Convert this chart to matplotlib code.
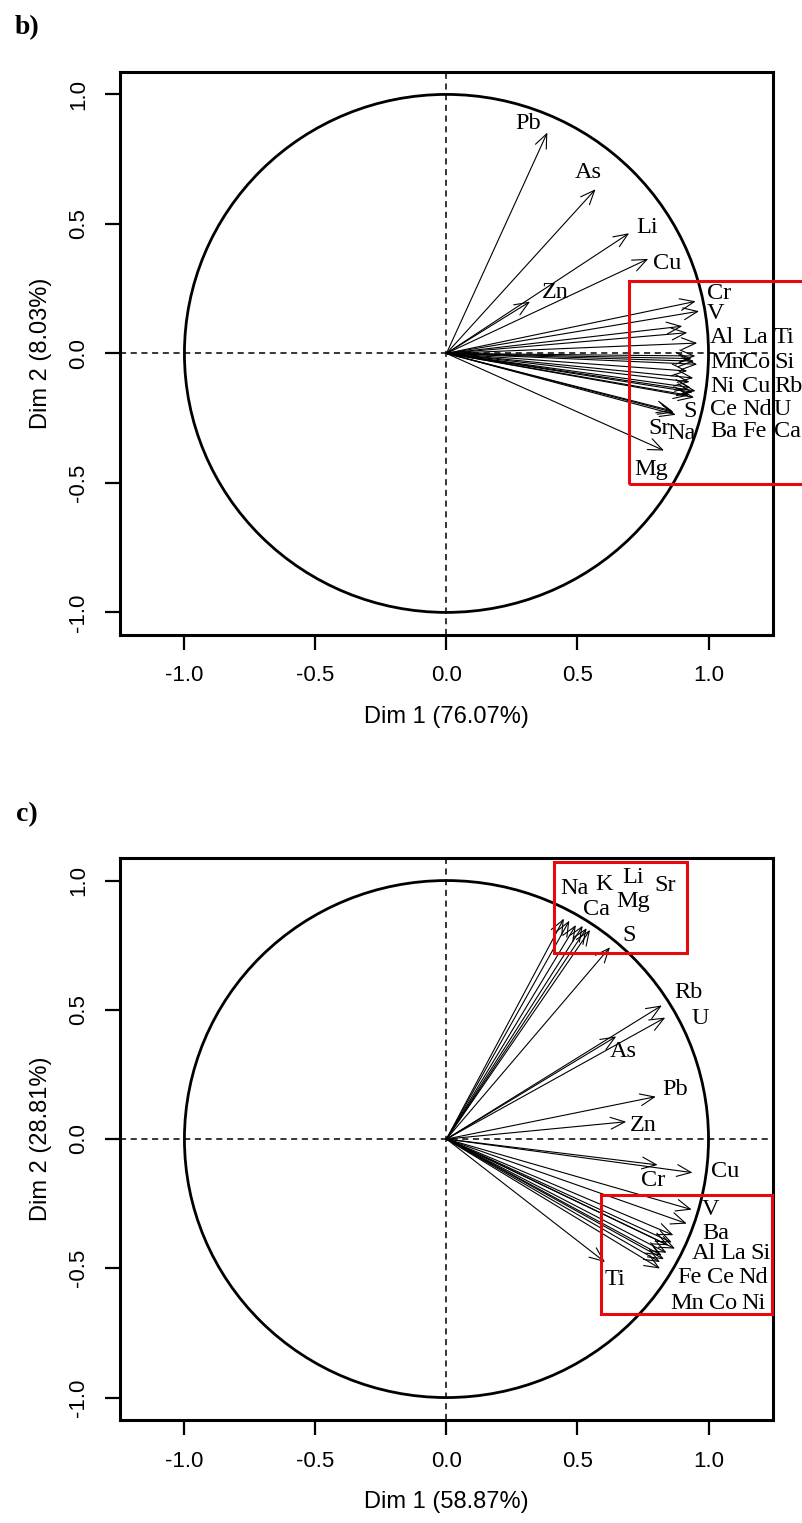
import matplotlib
matplotlib.use("Agg")
import numpy as np
import matplotlib.pyplot as plt
from matplotlib.patches import FancyArrowPatch, Rectangle, Circle

# ---- panel b) variable coordinates (arrow tips) ----
names_b = ["Pb", "As", "Li", "Cu", "Zn", "Cr", "V", "Al", "La", "Ti", "Mn", "Co", "Si",
           "Ni", "Cu", "Rb", "Ce", "Nd", "U", "S", "Sr", "Na", "Ba", "Fe", "Ca", "Mg"]
dim1_b = [0.385, 0.569, 0.697, 0.770, 0.319, 0.951, 0.964, 0.900, 0.919, 0.957, 0.945, 0.957, 0.935,
          0.919, 0.932, 0.951, 0.945, 0.926, 0.940, 0.875, 0.862, 0.868, 0.950, 0.928, 0.942, 0.830]
dim2_b = [0.853, 0.634, 0.464, 0.365, 0.200, 0.201, 0.163, 0.105, 0.080, 0.040, -0.030, -0.042, -0.020,
          -0.068, -0.132, -0.145, -0.170, -0.162, -0.150, -0.237, -0.222, -0.228, -0.010, -0.110, -0.095, -0.375]

# ---- panel c) variable coordinates (arrow tips) ----
names_c = ["Na", "K", "Li", "Sr", "Ca", "Mg", "S", "Rb", "U", "As", "Pb", "Zn", "Cu",
           "Cr", "V", "Ba", "Al", "La", "Si", "Fe", "Ce", "Nd", "Mn", "Co", "Ni", "Ti"]
dim1_c = [0.448, 0.469, 0.494, 0.520, 0.535, 0.548, 0.624, 0.822, 0.835, 0.648, 0.799, 0.686, 0.939,
          0.806, 0.936, 0.917, 0.866, 0.872, 0.847, 0.821, 0.815, 0.815, 0.860, 0.840, 0.830, 0.605]
dim2_c = [0.853, 0.845, 0.828, 0.825, 0.816, 0.809, 0.742, 0.517, 0.470, 0.397, 0.164, 0.067, -0.130,
          -0.100, -0.273, -0.327, -0.372, -0.424, -0.411, -0.450, -0.476, -0.501, -0.400, -0.440, -0.465, -0.476]

# label placement (text, x, y, ha) in data units
labels_b = [("Pb", 0.311, 0.886, "center"), ("As", 0.540, 0.697, "center"),
            ("Li", 0.764, 0.486, "center"), ("Cu", 0.842, 0.349, "center"),
            ("Zn", 0.414, 0.234, "center"), ("Cr", 0.995, 0.230, "left"),
            ("V", 0.995, 0.156, "left"),
            ("Al", 1.005, 0.060, "left"), ("La", 1.128, 0.060, "left"), ("Ti", 1.250, 0.060, "left"),
            ("Mn", 1.005, -0.037, "left"), ("Co", 1.128, -0.037, "left"), ("Si", 1.250, -0.037, "left"),
            ("Ni", 1.005, -0.128, "left"), ("Cu", 1.128, -0.128, "left"), ("Rb", 1.250, -0.128, "left"),
            ("Ce", 1.005, -0.218, "left"), ("Nd", 1.128, -0.218, "left"), ("U", 1.250, -0.218, "left"),
            ("Ba", 1.005, -0.302, "left"), ("Fe", 1.128, -0.302, "left"), ("Ca", 1.250, -0.302, "left"),
            ("S", 0.929, -0.225, "center"), ("Sr", 0.811, -0.288, "center"),
            ("Na", 0.898, -0.308, "center"), ("Mg", 0.783, -0.450, "center")]
labels_c = [("Na", 0.490, 0.970, "center"), ("K", 0.601, 0.983, "center"),
            ("Li", 0.713, 1.012, "center"), ("Sr", 0.834, 0.979, "center"),
            ("Ca", 0.571, 0.889, "center"), ("Mg", 0.713, 0.918, "center"),
            ("S", 0.698, 0.789, "center"), ("Rb", 0.923, 0.566, "center"),
            ("U", 0.970, 0.467, "center"), ("As", 0.674, 0.338, "center"),
            ("Pb", 0.872, 0.193, "center"), ("Zn", 0.750, 0.054, "center"),
            ("Cu", 1.063, -0.126, "center"), ("Cr", 0.788, -0.159, "center"),
            ("V", 0.975, -0.273, "left"), ("Ba", 0.975, -0.364, "left"),
            ("Al", 0.936, -0.441, "left"), ("La", 1.045, -0.441, "left"), ("Si", 1.160, -0.441, "left"),
            ("Fe", 0.879, -0.537, "left"), ("Ce", 0.995, -0.537, "left"), ("Nd", 1.115, -0.537, "left"),
            ("Mn", 0.853, -0.636, "left"), ("Co", 1.000, -0.636, "left"), ("Ni", 1.125, -0.636, "left"),
            ("Ti", 0.643, -0.545, "center")]

ticks = [-1.0, -0.5, 0.0, 0.5, 1.0]
tick_labels = ["-1.0", "-0.5", "0.0", "0.5", "1.0"]

SANS = "Liberation Sans"
SERIF = "Liberation Serif"


def draw_panel(ax, xs, ys, labels, boxes, xlab, ylab):
    ax.set_xlim(-1.246, 1.246)
    ax.set_ylim(-1.087, 1.087)
    ax.axhline(0, color="black", lw=1.1, ls=(0, (4, 3)), zorder=1)
    ax.axvline(0, color="black", lw=1.1, ls=(0, (4, 3)), zorder=1)
    ax.add_patch(Circle((0, 0), 1.0, fill=False, lw=2.0, color="black", zorder=2))
    for x, y in zip(xs, ys):
        ax.add_patch(FancyArrowPatch((0, 0), (x, y), arrowstyle="->,head_length=0.6,head_width=0.25",
                                     mutation_scale=17, lw=0.8, color="black",
                                     shrinkA=0, shrinkB=0, zorder=3))
    for txt, x, y, ha in labels:
        ax.text(x, y, txt, ha=ha, va="center", fontsize=17.5, family=SERIF,
                clip_on=False, zorder=4)
    for x0, y0, x1, y1 in boxes:
        ax.add_patch(Rectangle((x0, y0), x1 - x0, y1 - y0, fill=False, ec="#e8090f",
                               lw=2.2, clip_on=False, zorder=5))
    ax.set_xticks(ticks)
    ax.set_xticklabels(tick_labels)
    ax.set_yticks(ticks)
    ax.set_yticklabels(tick_labels, rotation=90, va="center")
    ax.tick_params(direction="out", length=11, width=1.6, labelsize=16, pad=11)
    for lab in ax.get_xticklabels() + ax.get_yticklabels():
        lab.set_family(SANS)
    for sp in ax.spines.values():
        sp.set_linewidth(2.2)
    ax.set_xlabel(xlab, fontsize=17, family=SANS, labelpad=14)
    ax.set_ylabel(ylab, fontsize=17, family=SANS, labelpad=12)


fig = plt.figure(figsize=(8.03, 15.23), dpi=100)
ax_b = fig.add_axes([0.1494, 0.5831, 0.8132, 0.3697])
ax_c = fig.add_axes([0.1494, 0.0676, 0.8132, 0.3690])

draw_panel(ax_b, dim1_b, dim2_b, labels_b, [(0.695, -0.505, 1.40, 0.280)],
           "Dim 1 (76.07%)", "Dim 2 (8.03%)")
draw_panel(ax_c, dim1_c, dim2_c, labels_c,
           [(0.410, 0.721, 0.917, 1.073), (0.589, -0.677, 1.241, -0.217)],
           "Dim 1 (58.87%)", "Dim 2 (28.81%)")

fig.text(27 / 803, 1 - 28 / 1523, "b)", fontsize=20, fontweight="bold", family=SERIF,
         ha="center", va="center")
fig.text(27 / 803, 1 - 815 / 1523, "c)", fontsize=20, fontweight="bold", family=SERIF,
         ha="center", va="center")

fig.savefig("out.png", dpi=100)
